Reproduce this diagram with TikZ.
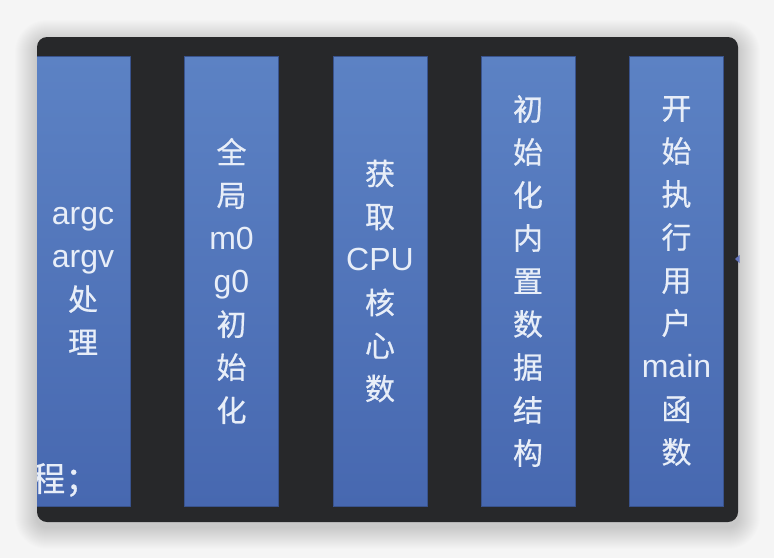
\documentclass[tikz,border=0pt]{standalone}
\usepackage{fontspec}
\newfontfamily\cjk[FakeBold=0.5]{Noto Sans CJK SC}
\newfontfamily\lat{Liberation Sans}
\definecolor{pagebg}{HTML}{F5F5F5}
\definecolor{panel}{HTML}{27282A}
\definecolor{coltop}{HTML}{5C82C4}
\definecolor{colbot}{HTML}{4768B0}
\definecolor{coltext}{HTML}{E8EEF8}
\definecolor{tipcol}{HTML}{6475BD}
\newcommand{\ltx}[1]{{\lat\fontsize{32}{43}\selectfont #1}}
\tikzset{
  every picture/.style={line join=round, line cap=round},
  colbox/.style={minimum width=94pt, minimum height=450pt, inner sep=0pt,
    top color=coltop, bottom color=colbot, draw=colbot!80!black, line width=0.4pt,
    text=coltext, align=center, font=\cjk\fontsize{30}{43}\selectfont},
}
\begin{document}
\begin{tikzpicture}[x=1pt,y=-1pt]
\fill[pagebg] (0,0) rectangle (774,558);
\useasboundingbox (0,0) rectangle (774,558);
% soft shadow and dark panel
\foreach \i in {1,...,22}
  \fill[black, opacity=0.009, rounded corners=10pt+\i pt] (37-\i,37-\i+5) rectangle (738+\i,522+\i+5);
\fill[panel, rounded corners=10pt] (37,37) rectangle (738,522);
\begin{scope}
\clip[rounded corners=10pt] (37,37) rectangle (738,522);
\node[colbox] (argv) at (83,281) {\ltx{argc}\\\ltx{argv}\\处\\理};
\node[text=coltext, font=\cjk\fontsize{34}{40}\selectfont, inner sep=0pt, anchor=west] (tail) at (31,480) {程；};
\end{scope}
\node[colbox] (m0g0) at (231.5,281) {全\\局\\\ltx{m0}\\\ltx{g0}\\初\\始\\化};
\node[colbox] (ncpu) at (380,281) {获\\取\\\ltx{CPU}\\核\\心\\数};
\node[colbox] (types) at (528,281) {初\\始\\化\\内\\置\\数\\据\\结\\构};
\node[colbox] (umain) at (676.5,281) {开\\始\\执\\行\\用\\户\\\ltx{main}\\函\\数};
% small arrow tip at right edge
\fill[tipcol] (735,259) -- (739.5,255) -- (739.5,263) -- cycle;
\end{tikzpicture}
\end{document}
